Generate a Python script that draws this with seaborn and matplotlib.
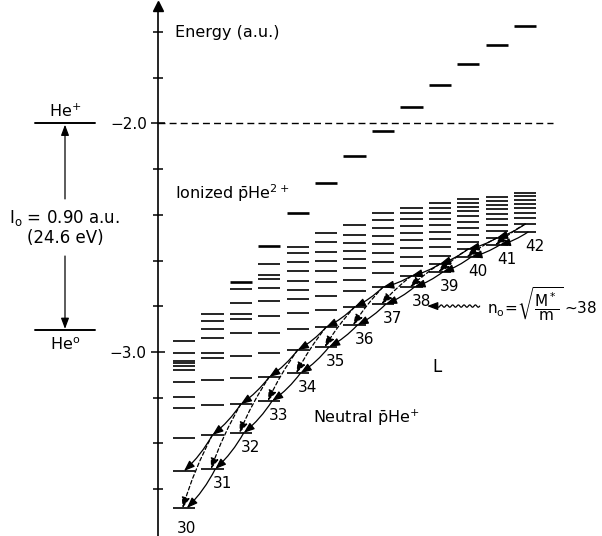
import numpy as np
import pandas as pd
import matplotlib
matplotlib.use("Agg")
import matplotlib.pyplot as plt
import seaborn as sns

# energy levels (a.u.) of neutral pHe+ for each angular momentum column L
L_values = list(range(29, 42))
lev_29 = [-2.952, -3.004, -3.039, -3.048, -3.061, -3.079, -3.131, -3.197, -3.245, -3.376, -3.521, -3.683]
lev_30 = [-2.834, -2.864, -2.899, -2.939, -3.004, -3.026, -3.123, -3.232, -3.363, -3.512]
lev_31 = [-2.724, -2.786, -2.834, -2.856, -2.917, -3.018, -3.114, -3.228, -3.354]
lev_32 = [-2.615, -2.663, -2.681, -2.720, -2.777, -2.842, -2.917, -3.004, -3.109, -3.214]
lev_33 = [-2.540, -2.567, -2.606, -2.646, -2.689, -2.729, -2.768, -2.829, -2.899, -2.991, -3.092]
lev_34 = [-2.479, -2.519, -2.562, -2.602, -2.646, -2.694, -2.755, -2.816, -2.891, -2.978]
lev_35 = [-2.444, -2.488, -2.523, -2.558, -2.593, -2.632, -2.685, -2.733, -2.803, -2.882]
lev_36 = [-2.392, -2.422, -2.457, -2.492, -2.527, -2.567, -2.606, -2.654, -2.716, -2.790]
lev_37 = [-2.370, -2.392, -2.418, -2.449, -2.479, -2.510, -2.545, -2.584, -2.624, -2.667, -2.716]
lev_38 = [-2.348, -2.370, -2.392, -2.418, -2.444, -2.475, -2.505, -2.540, -2.580, -2.615, -2.650]
lev_39 = [-2.330, -2.348, -2.365, -2.383, -2.405, -2.431, -2.457, -2.488, -2.519, -2.549, -2.584]
lev_40 = [-2.322, -2.339, -2.357, -2.374, -2.396, -2.418, -2.444, -2.470, -2.501, -2.532]
lev_41 = [-2.304, -2.317, -2.335, -2.352, -2.370, -2.392, -2.414, -2.440, -2.475]
all_levels = [lev_29, lev_30, lev_31, lev_32, lev_33, lev_34, lev_35, lev_36,
              lev_37, lev_38, lev_39, lev_40, lev_41]

# ionized pHe2+ levels
ion_L = list(range(31, 42))
ion_E = [-2.694, -2.536, -2.392, -2.260, -2.142, -2.033, -1.928, -1.832, -1.740, -1.657, -1.573]

# circular state labels n = L + 1
circ_n = list(range(30, 43))

he_plus = -2.0
he_zero = -2.904

rows = []
for L, levs in zip(L_values, all_levels):
    for e in levs:
        rows.append({"L": L, "E": e})
df = pd.DataFrame(rows)
df_ion = pd.DataFrame({"L": ion_L, "E": ion_E})

sns.set_theme(style="white")
plt.rcParams["font.family"] = ["DejaVu Sans"]
plt.rcParams["mathtext.default"] = "regular"
plt.rcParams["text.color"] = "black"
plt.rcParams["ytick.color"] = "black"

fig = plt.figure(figsize=(6.02, 5.36), dpi=100)
ax = fig.add_axes([0, 0, 1, 1])
px = 28.43  # pixels per L column
ax.set_xlim(29 - 184 / px, 29 + 418 / px)
ax.set_ylim(-2 - 412.5 / 228.5, -2 + 123.5 / 228.5)

hw = 0.39
ax.hlines(df["E"], df["L"] - hw, df["L"] + hw, color="black", lw=1.2)
ax.hlines(df_ion["E"], df_ion["L"] - hw, df_ion["L"] + hw, color="black", lw=1.9)

# axis
x_axis = 29 - 26 / px
for s in ["top", "right", "bottom"]:
    ax.spines[s].set_visible(False)
ax.spines["left"].set_position(("data", x_axis))
ax.spines["left"].set_bounds(-3.82, -1.49)
ax.spines["left"].set_linewidth(1.2)
ax.spines["left"].set_color("black")
ax.plot(x_axis, -1.485, marker="^", ms=7, color="black", clip_on=False)
ax.set_xticks([])
ax.set_yticks([-2.0, -3.0])
ax.set_yticklabels(["\u22122.0", "\u22123.0"], fontsize=11, color="black")
ax.set_yticks(np.arange(-3.6, -1.55, 0.2), minor=True)
ax.tick_params(axis="y", which="major", direction="inout", length=10, width=1.1, pad=3, left=True)
ax.tick_params(axis="y", which="minor", direction="inout", length=7, width=1.1, left=True)
ax.grid(False)

# He+ threshold dashed line
ax.plot([x_axis, 29 + 369 / px], [he_plus, he_plus], color="black", lw=1.0, ls=(0, (5, 3)))

# transitions
circ = [levs[-1] for levs in all_levels]
v1 = [levs[-2] for levs in all_levels]
head = dict(color="black", lw=0.9, shrinkA=0, shrinkB=0, mutation_scale=8,
            arrowstyle="-|>,head_length=0.8,head_width=0.3")
for i in range(1, len(L_values)):
    L, Lm = L_values[i], L_values[i - 1]
    ax.annotate("", xy=(Lm + 0.1, circ[i - 1]), xytext=(L + 0.1, circ[i]),
                arrowprops=dict(connectionstyle="arc3,rad=-0.08", **head))
    ax.annotate("", xy=(Lm, v1[i - 1]), xytext=(L, v1[i]),
                arrowprops=dict(connectionstyle="arc3,rad=-0.08", **head))
    ax.annotate("", xy=(Lm - 0.05, circ[i - 1]), xytext=(L, v1[i]),
                arrowprops=dict(connectionstyle="arc3,rad=0.05", linestyle=(0, (3, 2)), **head))

# circular state labels
for L, n, e in zip(L_values, circ_n, circ):
    if n == 30:
        ax.annotate(str(n), (L, e), xytext=(2, -9), textcoords="offset points",
                    ha="center", va="top", fontsize=11)
    else:
        ax.annotate(str(n), (L, e), xytext=(7, -5), textcoords="offset points",
                    ha="center", va="top", fontsize=11)

# texts
ax.text(28.68, -1.60, "Energy (a.u.)", fontsize=11.5, va="center", ha="left")
ax.text(28.68, -2.304, r"Ionized $\bar{\mathrm{p}}$He$^{2+}$", fontsize=11.5, va="center", ha="left")
ax.text(33.54, -3.289, r"Neutral $\bar{\mathrm{p}}$He$^{+}$", fontsize=11.5, va="center", ha="left")
ax.text(37.72, -3.066, "L", fontsize=12, va="center", ha="left")
ax.text(39.66, -2.79, r"$n_o\!=\!\sqrt{\dfrac{M^*}{m}}\,$~38", fontsize=11, va="center", ha="left")

# wavy arrow
wx = np.linspace(39.40, 37.85, 120)
wy = -2.799 + 0.005 * np.sin((wx - 39.40) / 0.2 * 2 * np.pi)
ax.plot(wx, wy, color="black", lw=0.9)
ax.annotate("", xy=(37.55, -2.799), xytext=(37.85, -2.799), arrowprops=head)

# left He levels diagram
xl0, xl1, xc = 29 - 149 / px, 29 - 89 / px, 29 - 119 / px
ax.plot([xl0, xl1], [he_plus, he_plus], color="black", lw=1.4)
ax.plot([xl0, xl1], [he_zero, he_zero], color="black", lw=1.4)
ax.text(xc, -1.945, r"He$^{+}$", fontsize=11.5, ha="center", va="center")
ax.text(xc, -2.97, r"He$^{\mathrm{o}}$", fontsize=11.5, ha="center", va="center")
ax.annotate("", xy=(xc, he_plus - 0.005), xytext=(xc, -2.33), arrowprops=head)
ax.annotate("", xy=(xc, he_zero + 0.005), xytext=(xc, -2.58), arrowprops=head)
ax.text(xc, -2.414, r"I$_{\mathrm{o}}$ = 0.90 a.u.", fontsize=12, ha="center", va="center")
ax.text(xc, -2.501, "(24.6 eV)", fontsize=12, ha="center", va="center")

fig.savefig("out.png", dpi=100)
